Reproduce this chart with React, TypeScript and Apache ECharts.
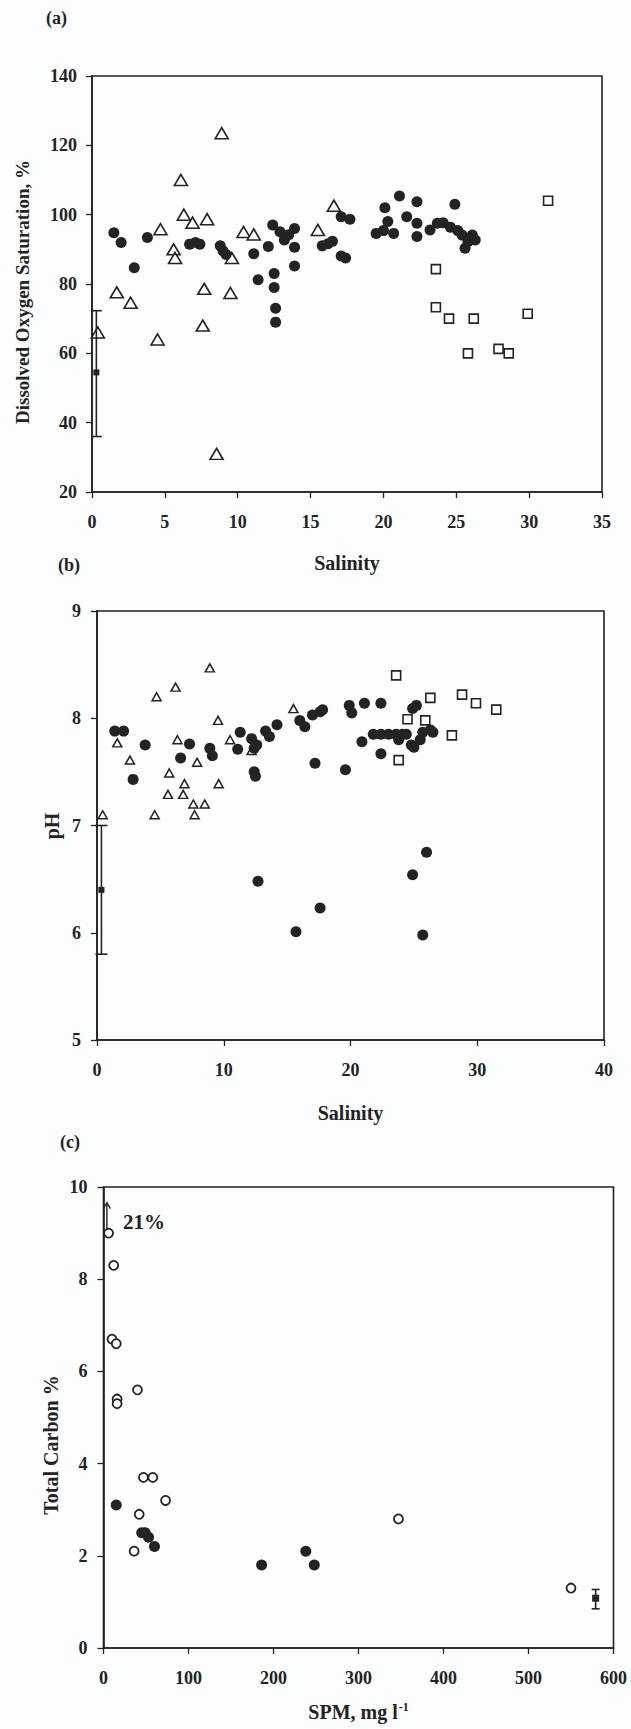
import React, { useEffect, useRef } from "react";
import * as echarts from "echarts";

// ---------- Panel (a): Dissolved oxygen saturation vs salinity ----------
const aTriangles: number[][] = [
  [0.4, 66], [1.7, 77.6], [2.65, 74.6], [4.5, 64], [4.7, 95.8], [5.6, 90], [5.7, 87.5],
  [6.1, 110], [6.3, 100], [6.9, 97.7], [7.6, 68], [7.7, 78.6], [7.9, 98.7], [8.55, 31],
  [8.9, 123.5], [9.5, 77.4], [9.6, 87.5], [10.4, 95], [11.1, 94.3], [15.5, 95.6], [16.6, 102.6],
];
const aCircles: number[][] = [
  [1.5, 94.8], [2.0, 92], [2.9, 84.7], [3.8, 93.4], [6.7, 91.5], [7.1, 92], [7.4, 91.5],
  [8.8, 91], [9.0, 89.5], [9.2, 88.5], [11.1, 88.7], [11.4, 81.2], [12.1, 90.8], [12.4, 97],
  [12.9, 95.1], [13.2, 92.7], [13.5, 94.2], [13.9, 96], [13.9, 90.6], [13.9, 85.2],
  [12.5, 83], [12.5, 79], [12.6, 73], [12.6, 69], [15.8, 91], [16.2, 91.6], [16.5, 92.3],
  [17.1, 99.4], [17.7, 98.7], [17.1, 88.1], [17.4, 87.5], [19.5, 94.6], [20.0, 95.4],
  [20.1, 102], [20.3, 98], [20.7, 94.6], [21.1, 105.4], [21.6, 99.4], [22.3, 103.7],
  [22.3, 97.5], [22.3, 93.7], [23.2, 95.6], [23.7, 97.5], [24.1, 97.7], [24.6, 96.4],
  [24.9, 103], [25.1, 95.4], [25.4, 94.1], [25.6, 90.3], [25.8, 92.2], [26.1, 94.1], [26.3, 92.7],
];
const aSquares: number[][] = [
  [23.6, 84.3], [23.6, 73.3], [24.5, 70], [25.8, 60], [26.2, 70], [27.9, 61.3], [28.6, 60],
  [29.9, 71.4], [31.3, 104],
];
// [salinity, mean, low, high]
const aErrorBar: number[][] = [[0.3, 54.5, 36, 72.3]];

// ---------- Panel (b): pH vs salinity ----------
const bTriangles: number[][] = [
  [0.45, 7.1], [1.6, 7.77], [2.6, 7.61], [4.55, 7.1], [4.7, 8.2], [5.6, 7.29], [5.7, 7.49],
  [6.2, 8.29], [6.35, 7.8], [6.8, 7.29], [6.9, 7.39], [7.6, 7.2], [7.7, 7.1], [7.9, 7.59],
  [8.5, 7.2], [8.9, 8.47], [9.55, 7.98], [9.6, 7.39], [10.5, 7.8], [12.2, 7.7], [15.5, 8.09],
];
const bCircles: number[][] = [
  [1.4, 7.88], [2.1, 7.88], [2.85, 7.43], [3.8, 7.75], [6.6, 7.63], [7.3, 7.76], [8.9, 7.72],
  [9.1, 7.65], [11.1, 7.71], [11.3, 7.87], [12.2, 7.81], [12.4, 7.72], [12.6, 7.75],
  [13.3, 7.88], [13.6, 7.83], [14.2, 7.94], [12.4, 7.5], [12.5, 7.46], [16.0, 7.98],
  [16.4, 7.92], [17.0, 8.03], [17.6, 8.06], [17.8, 8.08], [17.2, 7.58], [19.6, 7.52],
  [19.9, 8.12], [20.1, 8.05], [21.1, 8.14], [22.4, 8.14], [24.9, 8.09], [25.2, 8.12],
  [20.9, 7.78], [21.8, 7.85], [22.4, 7.85], [23.0, 7.85], [23.6, 7.85], [24.1, 7.85],
  [24.4, 7.85], [22.4, 7.67], [23.8, 7.8], [24.8, 7.75], [25.0, 7.73], [25.5, 7.8],
  [25.7, 7.87], [26.3, 7.89], [26.5, 7.87], [12.7, 6.48], [15.7, 6.01], [17.6, 6.23],
  [24.9, 6.54], [26.0, 6.75], [25.7, 5.98],
];
const bSquares: number[][] = [
  [23.6, 8.4], [23.8, 7.61], [24.5, 7.99], [25.9, 7.98], [26.3, 8.19], [28.0, 7.84],
  [28.8, 8.22], [29.9, 8.14], [31.5, 8.08],
];
const bErrorBar: number[][] = [[0.35, 6.4, 5.8, 7.0]];

// ---------- Panel (c): Total carbon vs SPM ----------
const cOpen: number[][] = [
  [6, 9.0], [12, 8.3], [10, 6.7], [15, 6.6], [16, 5.4], [16, 5.3], [40, 5.6], [47, 3.7],
  [58, 3.7], [73, 3.2], [42, 2.9], [36, 2.1], [347, 2.8], [550, 1.3],
];
const cFilled: number[][] = [
  [15, 3.1], [45, 2.5], [49, 2.5], [53, 2.4], [60, 2.2], [186, 1.8], [238, 2.1], [248, 1.8],
];
const cErrorBar: number[][] = [[579, 1.08, 0.85, 1.27]];
// off-scale point: arrow [spm, from, to], label position [spm, tc]
const cArrow: number[][] = [[4, 9.08, 9.66, 23, 9.24]];
const cArrowLabel = "21%";

// ---------- Axis ticks / titles ----------
const aX = { min: 0, max: 35, interval: 5 };
const aY = { min: 20, max: 140, interval: 20 };
const bX = { min: 0, max: 40, interval: 10 };
const bY = { min: 5, max: 9, interval: 1 };
const cX = { min: 0, max: 600, interval: 100 };
const cY = { min: 0, max: 10, interval: 2 };

const INK = "#232323";
const FONT = '"Liberation Serif", "Times New Roman", serif';

function xAxis(i: number, r: any, name: string, nameGap: number, rich?: any) {
  return {
    type: "value", gridIndex: i, ...r,
    name, nameLocation: "middle", nameGap,
    nameTextStyle: { fontFamily: FONT, fontWeight: "bold", fontSize: 20, color: INK, rich },
    axisLine: { show: true, onZero: false, lineStyle: { color: INK, width: 1.6 } },
    axisTick: { show: true, inside: false, length: 6, lineStyle: { color: INK, width: 1.3 } },
    axisLabel: { fontFamily: FONT, fontWeight: "bold", fontSize: 18, color: INK, margin: 21 },
    splitLine: { show: false },
  };
}
function yAxis(i: number, r: any, margin: number) {
  return {
    type: "value", gridIndex: i, ...r,
    axisLine: { show: true, onZero: false, lineStyle: { color: INK, width: 1.6 } },
    axisTick: { show: true, inside: false, length: 6, lineStyle: { color: INK, width: 1.3 } },
    axisLabel: { fontFamily: FONT, fontWeight: "bold", fontSize: 18, color: INK, margin },
    splitLine: { show: false },
  };
}
function scatter(i: number, data: number[][], symbol: string, size: any, open: boolean, bw = 1.6) {
  return {
    type: "scatter", xAxisIndex: i, yAxisIndex: i, data, symbol, symbolSize: size,
    itemStyle: open
      ? { color: "#ffffff", borderColor: INK, borderWidth: bw, opacity: 1 }
      : { color: INK, opacity: 1 },
    z: open ? 3 : 4,
  };
}
function errorBar(i: number, data: number[][], cap: number, sq: number) {
  return {
    type: "custom", xAxisIndex: i, yAxisIndex: i, data,
    encode: { x: 0, y: [1, 2, 3] }, z: 5,
    renderItem: (_p: any, api: any) => {
      const x = api.value(0);
      const c = api.coord([x, api.value(1)]);
      const lo = api.coord([x, api.value(2)]);
      const hi = api.coord([x, api.value(3)]);
      const st = { stroke: INK, lineWidth: 1.6 };
      return {
        type: "group",
        children: [
          { type: "line", shape: { x1: lo[0], y1: lo[1], x2: hi[0], y2: hi[1] }, style: st },
          { type: "line", shape: { x1: lo[0] - cap, y1: lo[1], x2: lo[0] + cap, y2: lo[1] }, style: st },
          { type: "line", shape: { x1: hi[0] - cap, y1: hi[1], x2: hi[0] + cap, y2: hi[1] }, style: st },
          { type: "rect", shape: { x: c[0] - sq / 2, y: c[1] - sq / 2, width: sq, height: sq }, style: { fill: INK } },
        ],
      };
    },
  };
}
function arrowSeries(i: number, data: number[][]) {
  return {
    type: "custom", xAxisIndex: i, yAxisIndex: i, data,
    encode: { x: 0, y: [1, 2] }, z: 5,
    renderItem: (_p: any, api: any) => {
      const x = api.value(0);
      const b = api.coord([x, api.value(1)]);
      const t = api.coord([x, api.value(2)]);
      const l = api.coord([api.value(3), api.value(4)]);
      const st = { stroke: INK, lineWidth: 1.4, fill: "none" };
      return {
        type: "group",
        children: [
          { type: "line", shape: { x1: b[0], y1: b[1], x2: t[0], y2: t[1] }, style: st },
          { type: "polyline", shape: { points: [[t[0] - 3.5, t[1] + 6], [t[0], t[1]], [t[0] + 3.5, t[1] + 6]] }, style: st },
          {
            type: "text", x: l[0], y: l[1],
            style: { text: cArrowLabel, fill: INK, font: `bold 21px ${FONT}`, align: "left", verticalAlign: "middle" },
          },
        ],
      };
    },
  };
}
function label(text: string, x: number, y: number, size = 18, rot = 0) {
  return {
    type: "text", x, y, rotation: rot,
    style: {
      text, fill: INK, font: `bold ${size}px ${FONT}`,
      textAlign: rot ? "center" : "left", textVerticalAlign: "middle",
    },
  };
}

function buildOption() {
  const gridStyle = { show: true, borderColor: INK, borderWidth: 1.6, backgroundColor: "transparent", containLabel: false };
  return {
    animation: false,
    backgroundColor: "#fcfdfe",
    grid: [
      { left: 92, top: 76, width: 510, height: 416, ...gridStyle },
      { left: 97, top: 611, width: 507, height: 429, ...gridStyle },
      { left: 103.5, top: 1187, width: 510, height: 461, ...gridStyle },
    ],
    xAxis: [
      xAxis(0, aX, "Salinity", 61),
      xAxis(1, bX, "Salinity", 63),
      xAxis(2, cX, "SPM, mg l{sup|-1}", 53, {
        sup: { fontFamily: FONT, fontWeight: "bold", fontSize: 12, color: INK, padding: [0, 0, 9, 1] },
      }),
    ],
    yAxis: [yAxis(0, aY, 15), yAxis(1, bY, 16), yAxis(2, cY, 16)],
    graphic: [
      label("(a)", 46, 18),
      label("(b)", 58, 565),
      label("(c)", 60, 1142),
      label("Dissolved Oxygen Saturation, %", 22, 292, 19, Math.PI / 2),
      label("pH", 52, 826, 20, Math.PI / 2),
      label("Total Carbon %", 51, 1445, 20, Math.PI / 2),
    ],
    series: [
      scatter(0, aTriangles, "triangle", [13, 11], true),
      scatter(0, aSquares, "rect", 9, true),
      scatter(0, aCircles, "circle", 11, false),
      errorBar(0, aErrorBar, 5.5, 6),
      scatter(1, bTriangles, "triangle", [9, 8], true, 1.5),
      scatter(1, bSquares, "rect", 9, true),
      scatter(1, bCircles, "circle", 11, false),
      errorBar(1, bErrorBar, 6, 6),
      scatter(2, cOpen, "circle", 9, true, 1.8),
      scatter(2, cFilled, "circle", 11, false),
      errorBar(2, cErrorBar, 4, 7),
      arrowSeries(2, cArrow),
    ],
  };
}

export default function App() {
  const ref = useRef<HTMLDivElement>(null);
  useEffect(() => {
    document.body.style.margin = "0";
    const chart = echarts.init(ref.current as HTMLDivElement, null, { renderer: "svg" });
    chart.setOption(buildOption() as any);
    return () => chart.dispose();
  }, []);
  return <div ref={ref} style={{ width: 631, height: 1729, position: "absolute", left: 0, top: 0 }} />;
}
